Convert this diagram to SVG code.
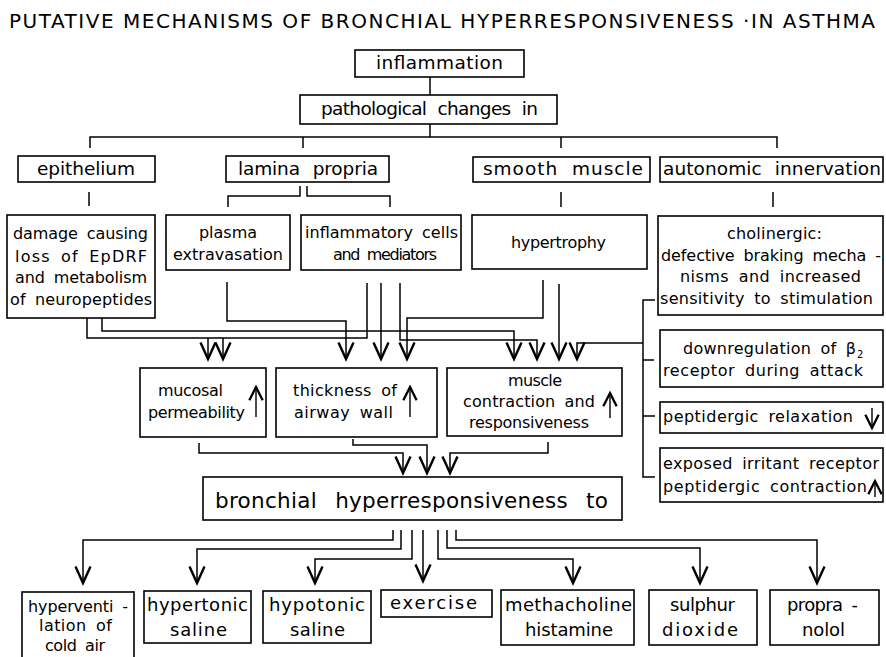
<svg xmlns="http://www.w3.org/2000/svg" width="886" height="657" viewBox="0 0 886 657">
<defs>
<style>
.b{fill:none;stroke:#000;stroke-width:1.6}
text{font-family:"DejaVu Sans","Liberation Sans",sans-serif;fill:#000}
.ti{font-size:18.5px;word-spacing:6px}
.h{font-size:18.5px;word-spacing:7px}
.s{font-size:16px;word-spacing:4px}
.m{font-size:18px;word-spacing:4px}
.br{font-size:21.5px;word-spacing:11px}
.c path{fill:none;stroke:#000;stroke-width:1.5}
.c path.a{marker-end:url(#ah)}
path.u{fill:none;stroke:#000;stroke-width:1.4;marker-end:url(#sh)}
</style>
<marker id="ah" markerUnits="userSpaceOnUse" markerWidth="24" markerHeight="24" viewBox="-13 -8 16 16" refX="0" refY="0" orient="auto" overflow="visible"><path d="M-11,-5 L0,0 L-11,5" fill="none" stroke="#000" stroke-width="1.6"/></marker>
<marker id="sh" markerUnits="userSpaceOnUse" markerWidth="20" markerHeight="20" viewBox="-10 -6 12 12" refX="0" refY="0" orient="auto" overflow="visible"><path d="M-8,-4 L0,0 L-8,4" fill="none" stroke="#000" stroke-width="1.4"/></marker>
</defs>
<rect width="886" height="657" fill="#fff"/>
<text x="9" y="28" font-size="20" textLength="866" lengthAdjust="spacing">PUTATIVE MECHANISMS OF BRONCHIAL HYPERRESPONSIVENESS ·IN ASTHMA</text>

<g id="connectors" class="c">
<path d="M430,77 V95"/>
<path d="M430,124 V137"/>
<path d="M90,148 V137 H777 V148"/>
<path d="M303,137 V148"/>
<path d="M561,137 V148"/>
<path d="M89,192 V206"/>
<path d="M300,186 V196 H228 V207"/>
<path d="M307,186 V196 H390 V207"/>
<path d="M561,192 V207"/>
<path d="M773,192 V207"/>
<path d="M367,283 V338 H87 V318"/>
<path class="a" d="M208,338 V359"/>
<path class="a" d="M223,338 V359"/>
<path class="a" d="M102,318 V331 H514 V359"/>
<path class="a" d="M227,282 V321 H346 V359"/>
<path class="a" d="M381,283 V359"/>
<path class="a" d="M400,283 V340 H537 V359"/>
<path class="a" d="M543,280 V318 H407 V359"/>
<path class="a" d="M559,284 V359"/>
<path d="M655,300 H643 V477 H655"/>
<path d="M643,360 H654"/>
<path d="M643,416 H655"/>
<path class="a" d="M643,343 H577 V359"/>
<path class="a" d="M199,443 V453 H403 V473"/>
<path class="a" d="M353,439 V445 H427 V473"/>
<path class="a" d="M548,442 V453 H450 V473"/>
<path class="a" d="M393,530 V540 H83 V583"/>
<path class="a" d="M401,530 V549 H197 V583"/>
<path class="a" d="M412,530 V559 H315 V583"/>
<path class="a" d="M423,530 V581"/>
<path class="a" d="M438,530 V559 H573 V583"/>
<path class="a" d="M447,530 V548 H700 V583"/>
<path class="a" d="M456,530 V540 H817 V583"/>
</g>

<g id="inflammation"><rect class="b" x="355" y="50" width="169" height="27"/><text class="ti" x="376" y="69" textLength="127" lengthAdjust="spacing">inflammation</text></g>
<g id="pathological"><rect class="b" x="300" y="95" width="257" height="29"/><text class="ti" x="321" y="115" textLength="217" lengthAdjust="spacing">pathological changes in</text></g>
<g id="epithelium"><rect class="b" x="18" y="156" width="137" height="26"/><text class="h" x="37" y="175" textLength="98" lengthAdjust="spacing">epithelium</text></g>
<g id="lamina"><rect class="b" x="226" y="156" width="163" height="26"/><text class="h" x="238" y="175" textLength="140" lengthAdjust="spacing">lamina propria</text></g>
<g id="smooth"><rect class="b" x="473" y="157" width="177" height="25"/><text class="h" x="483" y="175" textLength="160" lengthAdjust="spacing">smooth muscle</text></g>
<g id="autonomic"><rect class="b" x="660" y="157" width="223" height="25"/><text class="h" x="663" y="175" textLength="218" lengthAdjust="spacing">autonomic innervation</text></g>

<g id="damage"><rect class="b" x="7" y="215" width="148" height="103"/>
<text class="s" x="13" y="239" textLength="135" lengthAdjust="spacing">damage causing</text>
<text class="s" x="15" y="262" textLength="132" lengthAdjust="spacing">loss of EpDRF</text>
<text class="s" x="15" y="283" textLength="132" lengthAdjust="spacing">and metabolism</text>
<text class="s" x="10" y="305" textLength="142" lengthAdjust="spacing">of neuropeptides</text></g>
<g id="plasma"><rect class="b" x="166" y="215" width="124" height="55"/>
<text class="s" x="199" y="238" textLength="58" lengthAdjust="spacing">plasma</text>
<text class="s" x="173" y="260" textLength="110" lengthAdjust="spacing">extravasation</text></g>
<g id="cells"><rect class="b" x="301" y="215" width="160" height="55"/>
<text class="s" x="305" y="238" textLength="153" lengthAdjust="spacing">inflammatory cells</text>
<text class="s" x="333" y="260" textLength="104" lengthAdjust="spacing">and mediators</text></g>
<g id="hypertrophy"><rect class="b" x="472" y="215" width="175" height="54"/>
<text class="s" x="511" y="248" textLength="95" lengthAdjust="spacing">hypertrophy</text></g>
<g id="cholinergic"><rect class="b" x="658" y="216" width="225" height="99"/>
<text class="s" x="727" y="239" textLength="95" lengthAdjust="spacing">cholinergic:</text>
<text class="s" x="661" y="261" textLength="220" lengthAdjust="spacing">defective braking mecha -</text>
<text class="s" x="680" y="282" textLength="181" lengthAdjust="spacing">nisms and increased</text>
<text class="s" x="660" y="304" textLength="213" lengthAdjust="spacing">sensitivity to stimulation</text></g>

<g id="downregulation"><rect class="b" x="660" y="330" width="223" height="57"/>
<text class="s" x="683" y="354" textLength="173" lengthAdjust="spacing">downregulation of β</text>
<text x="857" y="358" font-size="10">2</text>
<text class="s" x="663" y="376" textLength="200" lengthAdjust="spacing">receptor during attack</text></g>
<g id="relaxation"><rect class="b" x="660" y="402" width="223" height="31"/>
<text class="s" x="663" y="422" textLength="190" lengthAdjust="spacing">peptidergic relaxation</text>
<path class="u" d="M872,408 V428"/></g>
<g id="irritant"><rect class="b" x="660" y="448" width="223" height="54"/>
<text class="s" x="663" y="469" textLength="216" lengthAdjust="spacing">exposed irritant receptor</text>
<text class="s" x="663" y="492" textLength="204" lengthAdjust="spacing">peptidergic contraction</text>
<path class="u" d="M875,497 V481"/></g>

<g id="mucosal"><rect class="b" x="140" y="368" width="126" height="69"/>
<text class="s" x="158" y="396" textLength="65" lengthAdjust="spacing">mucosal</text>
<text class="s" x="148" y="418" textLength="97" lengthAdjust="spacing">permeability</text>
<path class="u" d="M256,417 V387"/></g>
<g id="thickness"><rect class="b" x="276" y="368" width="161" height="69"/>
<text class="s" x="293" y="396" textLength="104" lengthAdjust="spacing">thickness of</text>
<text class="s" x="294" y="418" textLength="99" lengthAdjust="spacing">airway wall</text>
<path class="u" d="M410,417 V387"/></g>
<g id="muscle"><rect class="b" x="447" y="368" width="175" height="68"/>
<text class="s" x="508" y="386" textLength="54" lengthAdjust="spacing">muscle</text>
<text class="s" x="463" y="407" textLength="132" lengthAdjust="spacing">contraction and</text>
<text class="s" x="469" y="428" textLength="120" lengthAdjust="spacing">responsiveness</text>
<path class="u" d="M610,418 V393"/></g>

<g id="bronchial"><rect class="b" x="203" y="477" width="419" height="43"/>
<text class="br" x="215" y="508" textLength="393" lengthAdjust="spacing">bronchial hyperresponsiveness to</text></g>

<g id="hyperventilation"><rect class="b" x="22" y="592" width="112" height="80"/>
<text class="s" x="28" y="612" textLength="100" lengthAdjust="spacing">hyperventi -</text>
<text class="s" x="39" y="631" textLength="73" lengthAdjust="spacing">lation of</text>
<text class="s" x="45" y="651" textLength="60" lengthAdjust="spacing">cold air</text></g>
<g id="hypertonic"><rect class="b" x="144" y="591" width="107" height="52"/>
<text class="m" x="147" y="611" textLength="101" lengthAdjust="spacing">hypertonic</text>
<text class="m" x="170" y="636" textLength="57" lengthAdjust="spacing">saline</text></g>
<g id="hypotonic"><rect class="b" x="263" y="591" width="108" height="52"/>
<text class="m" x="269" y="611" textLength="96" lengthAdjust="spacing">hypotonic</text>
<text class="m" x="290" y="636" textLength="55" lengthAdjust="spacing">saline</text></g>
<g id="exercise"><rect class="b" x="381" y="590" width="111" height="27"/>
<text class="m" x="390" y="609" textLength="87" lengthAdjust="spacing">exercise</text></g>
<g id="methacholine"><rect class="b" x="501" y="590" width="133" height="55"/>
<text class="m" x="505" y="611" textLength="127" lengthAdjust="spacing">methacholine</text>
<text class="m" x="525" y="636" textLength="88" lengthAdjust="spacing">histamine</text></g>
<g id="sulphur"><rect class="b" x="649" y="590" width="108" height="55"/>
<text class="m" x="670" y="611" textLength="65" lengthAdjust="spacing">sulphur</text>
<text class="m" x="662" y="636" textLength="76" lengthAdjust="spacing">dioxide</text></g>
<g id="propranolol"><rect class="b" x="770" y="590" width="109" height="55"/>
<text class="m" x="787" y="611" textLength="71" lengthAdjust="spacing">propra -</text>
<text class="m" x="802" y="636" textLength="43" lengthAdjust="spacing">nolol</text></g>
</svg>
